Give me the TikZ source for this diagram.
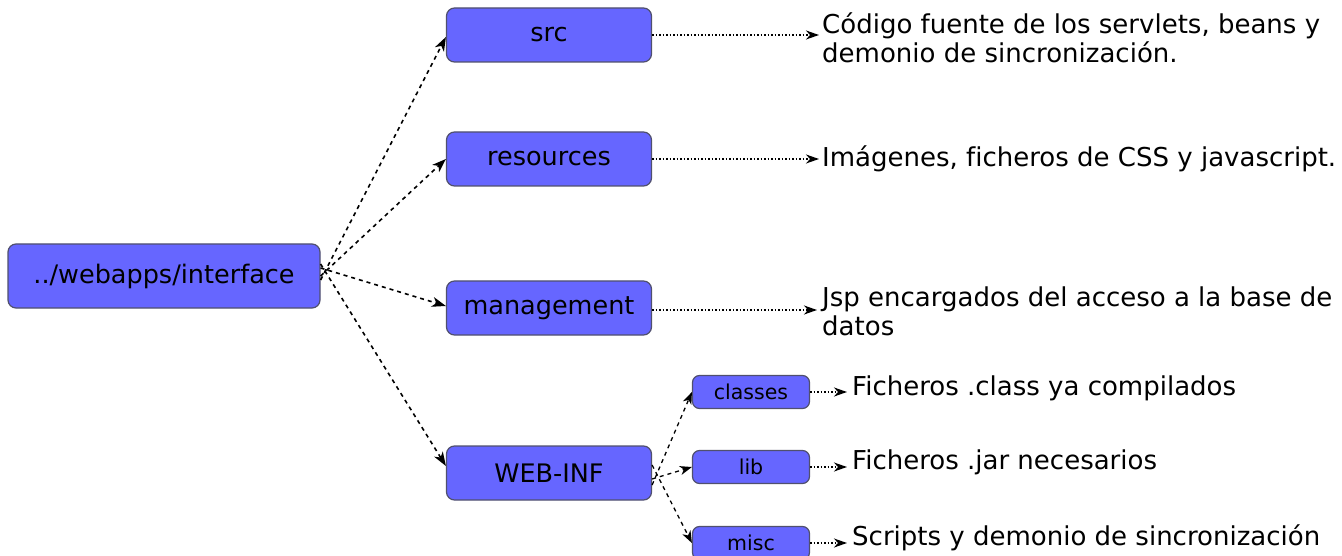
\documentclass[tikz,border=0pt]{standalone}
\usepackage{fontspec}
\setmainfont{DejaVu Sans}[Ligatures=NoCommon]
\usetikzlibrary{arrows.meta}
\definecolor{boxfill}{RGB}{102,102,255}
\definecolor{boxline}{RGB}{80,80,110}
\tikzset{
  folder/.style={draw=boxline, line width=1.2pt, fill=boxfill, rounded corners=8pt,
    minimum width=205pt, minimum height=54pt, font=\fontsize{25.5}{28}\selectfont, inner sep=0pt},
  subfolder/.style={folder, minimum width=117pt, minimum height=33pt, rounded corners=7pt,
    font=\fontsize{20.5}{22}\selectfont},
  desc/.style={anchor=west, align=left, inner sep=0pt, font=\fontsize{26}{29}\selectfont},
  link/.style={draw=black, line width=1.6pt, dash pattern=on 4pt off 4pt,
    -{Stealth[length=14pt,width=10pt,inset=4pt]}},
  sublink/.style={link, line width=1.3pt, -{Stealth[length=12pt,width=9pt,inset=3.5pt]}},
  note/.style={draw=black, line width=1.5pt, dash pattern=on 1.5pt off 2pt,
    -{Stealth[length=13pt,width=9pt,inset=4pt]}},
}
\begin{document}
\begin{tikzpicture}[x=1pt,y=-1pt]
\useasboundingbox[fill=white] (0,0) rectangle (1342,556);

% folder tree
\node[folder, minimum width=312pt, minimum height=64pt] (root) at (164,276) {../webapps/interface};
\node[folder] (src) at (549,35) {src};
\node[folder] (res) at (549,159) {resources};
\node[folder] (mgmt) at (549,308) {management};
\node[folder] (webinf) at (549,473) {WEB-INF};
\node[subfolder] (classes) at (751,392) {classes};
\node[subfolder] (lib) at (751,467) {lib};
\node[subfolder] (misc) at (751,543) {misc};

% descriptions
\node[desc] (tsrc) at (822,38) {Código fuente de los servlets, beans y\\demonio de sincronización.};
\node[desc] (tres) at (822,159) {Imágenes, ficheros de CSS y javascript.};
\node[desc] (tmgmt) at (822,311) {Jsp encargados del acceso a la base de\\datos};
\node[desc] (tclasses) at (852,388) {Ficheros .class ya compilados};
\node[desc] (tlib) at (852,462) {Ficheros .jar necesarios};
\node[desc] (tmisc) at (852,538) {Scripts y demonio de sincronización};

% tree links
\draw[link] ([yshift=-4pt]root.east) -- ([yshift=-2pt]src.west);
\draw[link] (root.east) -- (res.west);
\draw[link] ([yshift=8pt]root.east) -- ([yshift=2pt]mgmt.west);
\draw[link] ([yshift=12pt]root.east) -- ([yshift=7pt]webinf.west);
\draw[sublink] ([yshift=-12pt]webinf.east) -- (classes.west);
\draw[sublink] ([yshift=-6pt]webinf.east) -- (lib.west);
\draw[sublink] ([yshift=8pt]webinf.east) -- (misc.west);

% description arrows
\draw[note] (src.east) -- ([xshift=-3pt]src.east -| tsrc.west);
\draw[note] (res.east) -- ([xshift=-3pt]res.east -| tres.west);
\draw[note] ([yshift=-2pt]mgmt.east) -- ([xshift=-5pt,yshift=-2pt]mgmt.east -| tmgmt.west);
\draw[note] (classes.east) -- ([xshift=-5pt]classes.east -| tclasses.west);
\draw[note] (lib.east) -- ([xshift=-5pt]lib.east -| tlib.west);
\draw[note] (misc.east) -- ([xshift=-5pt]misc.east -| tmisc.west);
\end{tikzpicture}
\end{document}
